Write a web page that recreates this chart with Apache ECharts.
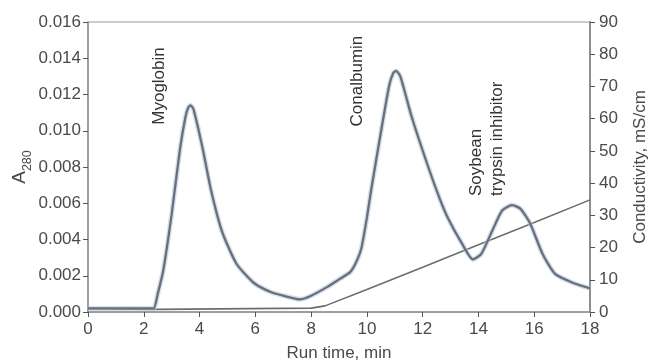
<!DOCTYPE html>
<html>
<head>
<meta charset="utf-8">
<script src="https://cdn.jsdelivr.net/npm/echarts@6/dist/echarts.min.js"></script>
<style>
  html, body { margin: 0; padding: 0; background: #fff; }
  #chart { width: 652px; height: 362px; }
</style>
</head>
<body>
<div id="chart"></div>
<script>
// run time (min) and A280 absorbance
const uvTime = [0, 1, 2, 2.35, 2.5, 2.7, 3.0, 3.3, 3.5, 3.6, 3.68, 3.78, 4.1, 4.4, 4.75, 5.0, 5.35, 5.95, 6.55, 7.0, 7.6,
  8.0, 8.6, 9.0, 9.4, 9.6, 9.8, 10.0, 10.15, 10.5, 10.8, 10.95, 11.05, 11.2, 11.6, 12.2, 12.6, 12.9, 13.4, 13.8, 14.1,
  14.5, 14.85, 15.2, 15.5, 15.85, 16.3, 16.75, 17.4, 18];
const a280 = [0.0002, 0.0002, 0.0002, 0.0002, 0.0010, 0.0023, 0.0054, 0.0090, 0.0108, 0.0113, 0.0114, 0.0112, 0.0091,
  0.0068, 0.0047, 0.0037, 0.0026, 0.0016, 0.0011, 0.0009, 0.0007, 0.0009, 0.0014, 0.0018, 0.0022, 0.0027, 0.0035,
  0.0052, 0.0067, 0.0099, 0.0125, 0.0132, 0.0133, 0.0130, 0.0108, 0.0080, 0.0063, 0.0052, 0.0038, 0.0029, 0.0032,
  0.0045, 0.0056, 0.0059, 0.0057, 0.0049, 0.0032, 0.0021, 0.0016, 0.0013];

// conductivity gradient (mS/cm)
const condTime = [0, 2.5, 8, 8.5, 10, 12, 14, 16, 18];
const conductivity = [1, 0.8, 1.2, 1.9, 7.0, 13.9, 20.9, 27.8, 34.8];

const xTicks = [0, 2, 4, 6, 8, 10, 12, 14, 16, 18];

// peak labels: [text lines, run time, A280] (centre of label)
const peakLabels = [
  { lines: ['Myoglobin'], x: 2.56, y: 0.01247, align: 'center' },
  { lines: ['Conalbumin'], x: 9.65, y: 0.01274, align: 'center' },
  { lines: ['Soybean', 'trypsin inhibitor'], x: 14.3, y: 0.0064, align: 'left' }
];

const font = 'Liberation Sans, Arial, sans-serif';
const textColor = '#4a4a4a';
const axisColor = '#8f8f8f';

const chart = echarts.init(document.getElementById('chart'));

const uvData = uvTime.map((t, i) => [t, a280[i]]);
const condData = condTime.map((t, i) => [t, conductivity[i]]);

chart.setOption({
  animation: false,
  grid: { left: 88, right: 62, top: 22, bottom: 50, show: true, borderColor: '#9a9a9a', borderWidth: 1,
    containLabel: false, outerBoundsMode: 'none' },
  xAxis: {
    type: 'value', min: 0, max: 18, interval: 2,
    name: 'Run time, min', nameLocation: 'middle', nameGap: 33,
    nameTextStyle: { fontFamily: font, fontSize: 17, color: textColor },
    axisLine: { show: true, lineStyle: { color: axisColor, width: 1.5 } },
    axisTick: { show: true, length: 5, lineStyle: { color: '#555' } },
    axisLabel: { fontFamily: font, fontSize: 17, color: textColor, margin: 9,
      customValues: xTicks },
    splitLine: { show: false }
  },
  yAxis: [
    {
      type: 'value', min: 0, max: 0.016, interval: 0.002,
      axisLine: { show: true, lineStyle: { color: axisColor, width: 1.5 } },
      axisTick: { show: true, length: 5, lineStyle: { color: '#555' } },
      axisLabel: { fontFamily: font, fontSize: 17, color: textColor, margin: 7,
        formatter: (v) => v.toFixed(3) },
      splitLine: { show: false }
    },
    {
      type: 'value', min: 0, max: 90, interval: 10, position: 'right',
      name: 'Conductivity, mS/cm', nameLocation: 'middle', nameGap: 42, nameRotate: 90,
      nameTextStyle: { fontFamily: font, fontSize: 17, color: textColor },
      axisLine: { show: true, lineStyle: { color: axisColor, width: 2 } },
      axisTick: { show: true, length: 5, lineStyle: { color: '#555' } },
      axisLabel: { fontFamily: font, fontSize: 17, color: textColor, margin: 9 },
      splitLine: { show: false }
    }
  ],
  series: [
    {
      name: 'Conductivity', type: 'line', yAxisIndex: 1, showSymbol: false,
      data: condData,
      lineStyle: { color: '#6d6d70', width: 1.6 }
    },
    {
      name: 'A280 halo', type: 'line', yAxisIndex: 0, showSymbol: false, smooth: 0.2,
      data: uvData, silent: true,
      lineStyle: { color: 'rgba(170,200,230,0.55)', width: 5 }
    },
    {
      name: 'A280', type: 'line', yAxisIndex: 0, showSymbol: false, smooth: 0.2,
      data: uvData,
      lineStyle: { color: '#6e6e76', width: 2.3 }
    }
  ]
});

// peak annotations, placed through the chart's own coordinate system
const graphics = peakLabels.map((p) => {
  const [px, py] = chart.convertToPixel({ xAxisIndex: 0, yAxisIndex: 0 }, [p.x, p.y]);
  return {
    type: 'text',
    x: px, y: py, rotation: Math.PI / 2,
    style: {
      text: p.lines.join('\n'), fontFamily: font, fontSize: 17, fill: '#333',
      align: p.align, verticalAlign: 'middle', lineHeight: 21
    }
  };
});

// left axis title A280 with subscript, centred on the axis
const midY = chart.convertToPixel({ yAxisIndex: 0 }, 0.008);
graphics.push({
  type: 'text',
  x: 22, y: midY, rotation: Math.PI / 2,
  style: {
    text: '{a|A}{s|280}', align: 'center', verticalAlign: 'middle',
    rich: {
      a: { fontFamily: font, fontSize: 19, fill: textColor, lineHeight: 24, verticalAlign: 'top' },
      s: { fontFamily: font, fontSize: 12.5, fill: textColor, lineHeight: 24, verticalAlign: 'bottom', padding: [9, 0, 0, 0] }
    }
  }
});
chart.setOption({ graphic: graphics });
</script>
</body>
</html>
